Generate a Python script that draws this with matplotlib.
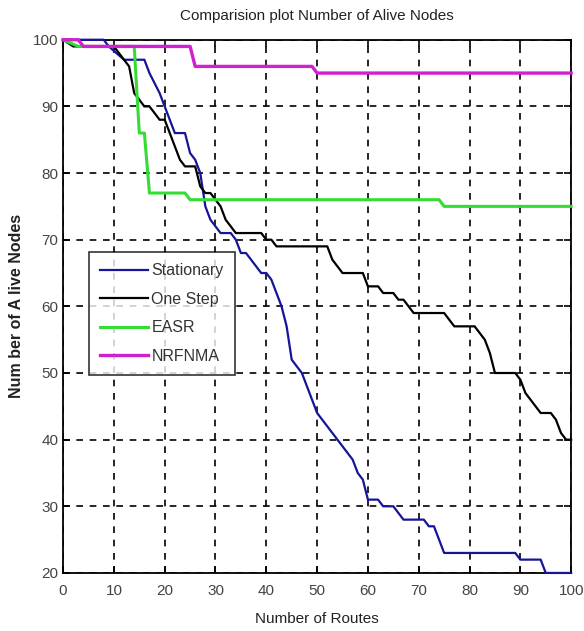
import matplotlib
matplotlib.use("Agg")
import matplotlib.pyplot as plt

plt.rcParams['font.family'] = ['Liberation Sans Narrow', 'Liberation Sans', 'DejaVu Sans']

# Stationary
stat_x = [0, 8, 9, 12, 16, 17, 19, 20, 21, 22, 24, 25, 26, 27, 28, 29, 30, 31, 33, 34, 35, 36,
          37, 38, 39, 40, 41, 42, 43, 44, 45, 46, 47, 48, 49, 50, 51, 52, 53, 54, 55, 56, 57,
          58, 59, 60, 62, 63, 65, 66, 67, 71, 72, 73, 74, 75, 89, 90, 94, 95, 100]
stat_y = [100, 100, 99, 97, 97, 95, 92, 90, 88, 86, 86, 83, 82, 80, 75, 73, 72, 71, 71, 70, 68, 68,
          67, 66, 65, 65, 64, 62, 60, 57, 52, 51, 50, 48, 46, 44, 43, 42, 41, 40, 39, 38, 37,
          35, 34, 31, 31, 30, 30, 29, 28, 28, 27, 27, 25, 23, 23, 22, 22, 20, 20]

# One Step
one_x = [0, 2, 10, 11, 12, 13, 14, 15, 16, 17, 18, 19, 20, 21, 22, 23, 24, 26, 27, 28, 29, 30,
         31, 32, 33, 34, 39, 40, 41, 42, 52, 53, 54, 55, 59, 60, 62, 63, 65, 66, 67, 68, 69,
         75, 76, 77, 81, 82, 83, 84, 85, 89, 90, 91, 92, 93, 94, 96, 97, 98, 99, 100]
one_y = [100, 99, 99, 98, 97, 96, 92, 91, 90, 90, 89, 88, 88, 86, 84, 82, 81, 81, 78, 77, 77, 76,
         75, 73, 72, 71, 71, 70, 70, 69, 69, 67, 66, 65, 65, 63, 63, 62, 62, 61, 61, 60, 59,
         59, 58, 57, 57, 56, 55, 53, 50, 50, 49, 47, 46, 45, 44, 44, 43, 41, 40, 40]

# EASR
easr_x = [0, 3, 14, 15, 16, 17, 24, 25, 74, 75, 100]
easr_y = [100, 99, 99, 86, 86, 77, 77, 76, 76, 75, 75]

# NRFNMA
nrf_x = [0, 3, 4, 25, 26, 49, 50, 100]
nrf_y = [100, 100, 99, 99, 96, 96, 95, 95]

fig = plt.figure(figsize=(5.84, 6.31), dpi=100)
ax = fig.add_axes([0.108, 0.092, 0.870, 0.845])

ax.plot(stat_x, stat_y, color='#15159a', lw=1.6, label='Stationary', clip_on=False, zorder=3)
ax.plot(one_x, one_y, color='black', lw=1.6, label='One Step', clip_on=False, zorder=3)
ax.plot(easr_x, easr_y, color='#33dd33', lw=2.2, label='EASR', clip_on=False, zorder=3)
ax.plot(nrf_x, nrf_y, color='#d020d0', lw=2.4, label='NRFNMA', clip_on=False, zorder=3)

ax.set_xlim(0, 100)
ax.set_ylim(20, 100)
ax.set_xticks(range(0, 101, 10))
ax.set_yticks(range(20, 101, 10))
ax.grid(True, color='black', linestyle=(0, (4, 4)), linewidth=1.2)
ax.tick_params(direction='in', top=True, right=True, length=5, labelsize=11,
               labelcolor='#444444', width=1.2)
ax.tick_params(axis='x', pad=8)
for s in ax.spines.values():
    s.set_linewidth(1.3)

ax.set_title('Comparision plot Number of Alive Nodes', fontsize=11, color='#222222', pad=14)
ax.set_xlabel('Number of Routes', fontsize=11, color='#222222', labelpad=10)
ax.set_ylabel('Num ber of A live Nodes', fontsize=11.5, fontweight='bold', color='#222222', labelpad=6)

leg = ax.legend(loc='upper left', bbox_to_anchor=(0.051, 0.602), fontsize=11.5,
                frameon=True, fancybox=False, edgecolor='black', handlelength=3.0,
                handletextpad=0.2, borderpad=0.7, labelspacing=0.85, borderaxespad=0)
leg.get_frame().set_linewidth(1.2)
leg.set_zorder(5)
for t in leg.get_texts():
    t.set_color('#333333')

fig.savefig('out.png', dpi=100)
